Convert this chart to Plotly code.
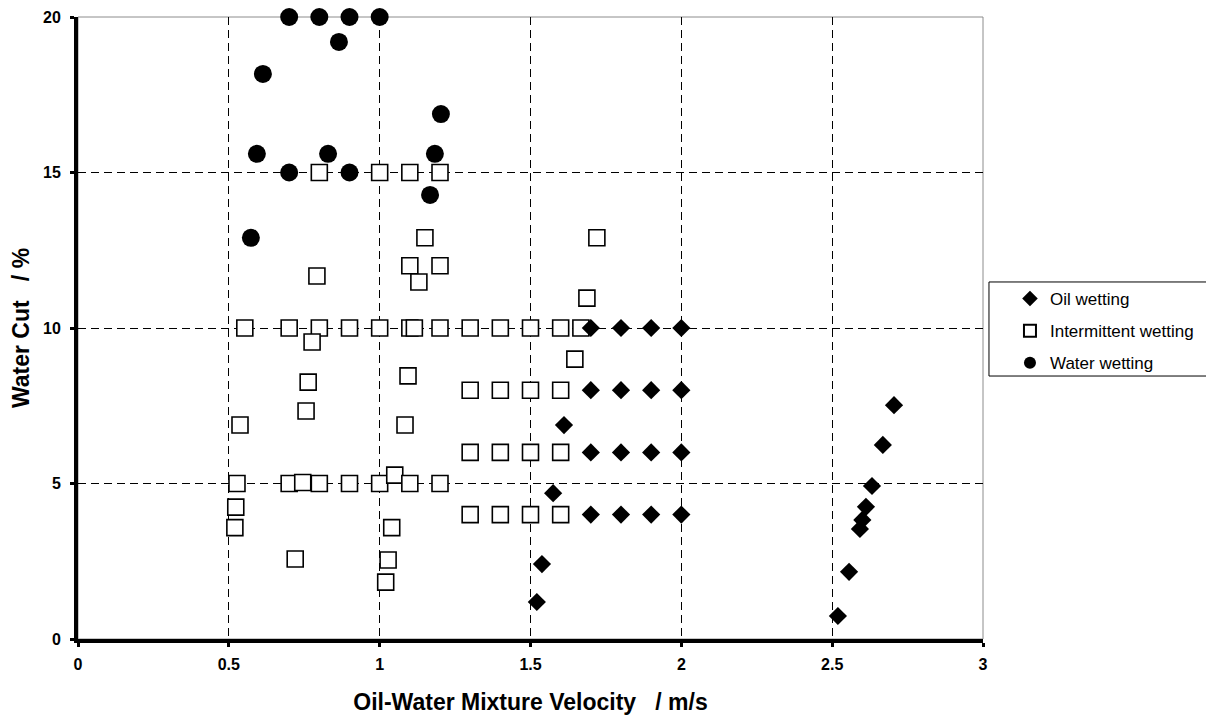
import plotly.graph_objects as go

# Oil wetting (diamonds)
oil_x = [1.7, 1.8, 1.9, 2.0, 1.7, 1.8, 1.9, 2.0, 1.7, 1.8, 1.9, 2.0, 1.7, 1.8, 1.9, 2.0,
         1.611, 1.575, 1.538, 1.521,
         2.705, 2.668, 2.632, 2.612, 2.600, 2.592, 2.556, 2.519]
oil_y = [10, 10, 10, 10, 8, 8, 8, 8, 6, 6, 6, 6, 4, 4, 4, 4,
         6.88, 4.69, 2.41, 1.19,
         7.52, 6.24, 4.92, 4.25, 3.83, 3.54, 2.16, 0.74]

# Intermittent wetting (open squares)
int_x = [0.8, 1.0, 1.1, 1.2,
         0.792, 1.15, 1.10, 1.20, 1.13, 1.72, 1.687,
         0.553, 0.7, 0.8, 0.9, 1.0, 1.1, 1.115, 1.2, 1.3, 1.4, 1.5, 1.6, 1.667,
         0.776, 1.647, 1.094, 1.084,
         1.3, 1.4, 1.5, 1.6,
         1.3, 1.4, 1.5, 1.6,
         1.3, 1.4, 1.5, 1.6,
         0.537, 0.763, 0.756,
         0.527, 0.70, 0.745, 0.80, 0.90, 1.0, 1.05, 1.1, 1.2,
         0.523, 0.52, 0.72, 1.04, 1.028, 1.02]
int_y = [15, 15, 15, 15,
         11.67, 12.9, 12.0, 12.0, 11.48, 12.9, 10.96,
         10, 10, 10, 10, 10, 10, 10, 10, 10, 10, 10, 10, 10,
         9.55, 9.0, 8.46, 6.88,
         8, 8, 8, 8,
         6, 6, 6, 6,
         4, 4, 4, 4,
         6.88, 8.26, 7.33,
         5, 5, 5.03, 5, 5, 5, 5.27, 5, 5,
         4.24, 3.58, 2.57, 3.58, 2.54, 1.83]

# Water wetting (filled circles)
wat_x = [0.7, 0.8, 0.9, 1.0, 0.865, 0.613, 0.593, 0.829, 0.7, 0.9, 0.573, 1.203, 1.183, 1.167]
wat_y = [20, 20, 20, 20, 19.2, 18.17, 15.6, 15.6, 15, 15, 12.9, 16.88, 15.6, 14.28]

x_ticks = [0, 0.5, 1, 1.5, 2, 2.5, 3]
x_tick_labels = ["0", "0.5", "1", "1.5", "2", "2.5", "3"]
y_ticks = [0, 5, 10, 15, 20]
y_tick_labels = ["0", "5", "10", "15", "20"]

FONT = "Arial, Liberation Sans, sans-serif"

fig = go.Figure()
fig.add_trace(go.Scatter(
    x=wat_x, y=wat_y, mode="markers", name="Water wetting",
    legendgroup="w", legendrank=3, cliponaxis=False,
    marker=dict(symbol="circle", size=18, color="black", line=dict(width=0)),
))
fig.add_trace(go.Scatter(
    x=int_x, y=int_y, mode="markers", name="Intermittent wetting",
    legendgroup="i", legendrank=2, cliponaxis=False,
    marker=dict(symbol="square", size=16, color="white", line=dict(width=1.6, color="black")),
))
fig.add_trace(go.Scatter(
    x=oil_x, y=oil_y, mode="markers", name="Oil wetting",
    legendgroup="o", legendrank=1, cliponaxis=False,
    marker=dict(symbol="diamond", size=14, color="black", line=dict(width=0)),
))

# Gray plot-area border (top/right) and legend box (runs off the right edge)
fig.add_shape(type="rect", xref="paper", yref="paper", x0=0, x1=1, y0=0, y1=1,
              line=dict(color="#8c8c8c", width=1), layer="below")
fig.add_shape(type="rect", xref="paper", yref="paper", x0=1.0066, x1=1.40, y0=0.4228, y1=0.574,
              line=dict(color="black", width=1), fillcolor="white", layer="below")

# The page adds an 8px body margin, so the figure is offset by 8px
fig.update_layout(
    width=1206, height=709,
    margin=dict(l=70, r=231, t=9, b=78, autoexpand=False),
    paper_bgcolor="white", plot_bgcolor="white",
    font=dict(family=FONT, color="black"),
    showlegend=True,
    legend=dict(x=1.0298, xanchor="left", y=0.5756, yanchor="top",
                bgcolor="rgba(0,0,0,0)", borderwidth=0,
                font=dict(family=FONT, size=17, color="black"),
                traceorder="grouped", tracegroupgap=7, itemsizing="constant"),
    xaxis=dict(
        range=[0, 3], tickmode="array", tickvals=x_ticks, ticktext=x_tick_labels,
        tickfont=dict(family=FONT, size=16, weight="bold"),
        showline=True, linewidth=4, linecolor="black",
        ticks="outside", ticklen=4, tickwidth=3, tickcolor="black",
        showgrid=True, gridcolor="black", gridwidth=1, griddash="8px,5px",
        zeroline=False, ticklabelstandoff=4,
        title=dict(text="Oil-Water Mixture Velocity\u00a0\u00a0\u00a0/ m/s",
                   font=dict(family=FONT, size=23, weight="bold"), standoff=23),
    ),
    yaxis=dict(
        range=[0, 20], tickmode="array", tickvals=y_ticks, ticktext=y_tick_labels,
        tickfont=dict(family=FONT, size=16, weight="bold"),
        showline=True, linewidth=4, linecolor="black",
        ticks="outside", ticklen=4, tickwidth=3, tickcolor="black",
        showgrid=True, gridcolor="black", gridwidth=1, griddash="8px,5px",
        zeroline=False, ticklabelstandoff=6,
        title=dict(text="Water Cut\u00a0\u00a0\u00a0/ %",
                   font=dict(family=FONT, size=23, weight="bold"), standoff=9),
    ),
)

fig.write_html("out.html")
